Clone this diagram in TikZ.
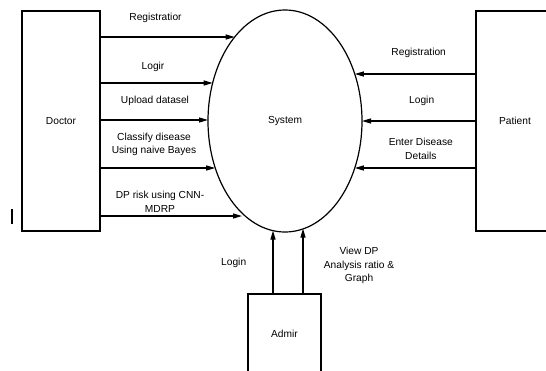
\documentclass[tikz,border=0pt]{standalone}
\usepackage{fontspec}
\setmainfont{Liberation Sans}
\usetikzlibrary{arrows.meta,shapes.geometric}
\begin{document}
\begin{tikzpicture}[x=1pt,y=-1pt,
  box/.style={draw, line width=1.2pt, rectangle, inner sep=0pt, font=\fontsize{10.2}{12.5}\selectfont},
  flow/.style={line width=1.2pt, -{Triangle[length=9pt,width=5pt]}},
  lbl/.style={font=\fontsize{10.2}{13.5}\selectfont, align=center, inner sep=0pt},
]
\useasboundingbox (0,0) rectangle (546,370);
\clip (0,0) rectangle (546,370);

% entities
\node[box, minimum width=78pt, minimum height=220pt] (doctor) at (61,121) {Doctor};
\node[box, minimum width=78pt, minimum height=220pt] (patient) at (515,121) {Patient};
\node[box, minimum width=73pt, minimum height=80pt] (admin) at (284.5,334) {Admir};
\node[draw, ellipse, line width=1.2pt, inner sep=0pt, minimum width=154pt, minimum height=222pt,
      font=\fontsize{10.2}{12.5}\selectfont] (sys) at (285,121) {System};

% arrow end points on the ellipse
\coordinate (d1) at (234.7,37);
\coordinate (d2) at (212.7,83);
\coordinate (d3) at (208,120);
\coordinate (d4) at (215.2,168);
\coordinate (d5) at (242,216);
\coordinate (p1) at (354.8,74);
\coordinate (p2) at (362,121);
\coordinate (p3) at (354.8,168);
\coordinate (a1) at (273,230.6);
\coordinate (a2) at (303,228.6);

% doctor flows
\draw[flow] (doctor.east |- d1) -- (d1);
\draw[flow] (doctor.east |- d2) -- (d2);
\draw[flow] (doctor.east |- d3) -- (d3);
\draw[flow] (doctor.east |- d4) -- (d4);
\draw[flow] (doctor.east |- d5) -- (d5);
% patient flows
\draw[flow] (patient.west |- p1) -- (p1);
\draw[flow] (patient.west |- p2) -- (p2);
\draw[flow] (patient.west |- p3) -- (p3);
% admin flows
\draw[flow] (admin.north -| a1) -- (a1);
\draw[flow] (admin.north -| a2) -- (a2);

% labels
\node[lbl] (l1) at (155.5,18) {Registratior};
\node[lbl] (l2) at (153,67) {Logir};
\node[lbl] (l3) at (155,101) {Upload datasel};
\node[lbl] (l4) at (154,144.5) {Classify disease\\Using naive Bayes};
\node[lbl] (l5) at (160,202) {DP risk using CNN-\\MDRP};
\node[lbl] (r1) at (418.7,53) {Registration};
\node[lbl] (r2) at (421.7,101) {Login};
\node[lbl] (r3) at (420.8,149) {Enter Disease\\Details};
\node[lbl] (b1) at (233.7,263) {Login};
\node[lbl] (b2) at (359,265.5) {View DP\\Analysis ratio \&\\Graph};

% stray mark
\draw[line width=1.2pt] (12,209) -- (12,224);
\end{tikzpicture}
\end{document}
